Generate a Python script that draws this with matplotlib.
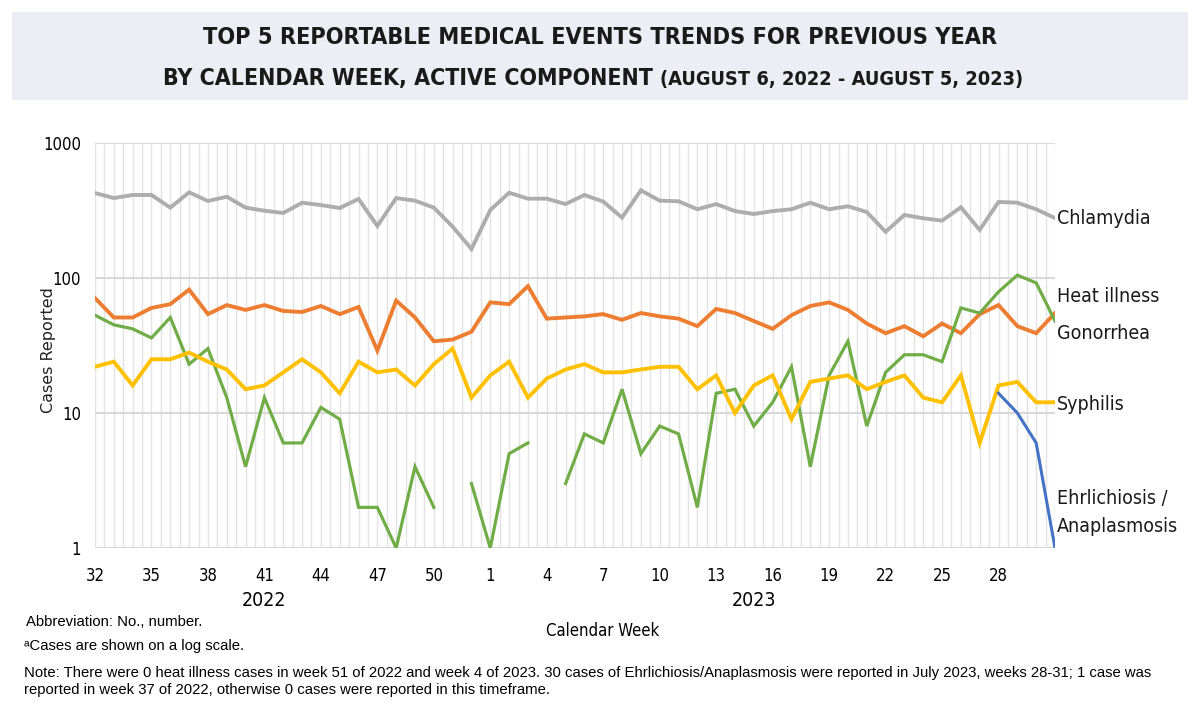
import numpy as np
import matplotlib.pyplot as plt
from matplotlib import font_manager
from matplotlib.patches import Rectangle

# Semanas: 32-52 de 2022 y 1-31 de 2023
semanas_2022 = list(range(32, 53))
semanas_2023 = list(range(1, 32))
etiquetas_semana = [str(s) for s in semanas_2022 + semanas_2023]

chlamydia = [426, 391, 412, 412, 332, 431, 372, 400, 332, 315, 303, 361, 347, 330, 385,
             243, 391, 374, 332, 240, 164,
             319, 428, 387, 387, 353, 412, 368, 280, 446, 374, 370, 323, 353, 313, 298,
             313, 323, 361, 323, 340, 308, 220, 293, 277, 266, 334, 227, 366, 361, 323, 278]

gonorrhea = [71, 51, 51, 60, 64, 82, 54, 63, 58, 63, 57, 56, 62, 54, 61,
             29, 68, 51, 34, 35, 40,
             66, 64, 87, 50, 51, 52, 54, 49, 55, 52, 50, 44, 59, 55, 48,
             42, 53, 62, 66, 58, 46, 39, 44, 37, 46, 39, 54, 63, 44, 39, 55]

# None = 0 casos (no se puede mostrar en escala log)
heat_illness = [53, 45, 42, 36, 51, 23, 30, 13, 4, 13, 6, 6, 11, 9, 2,
                2, 1, 4, 2, None, 3,
                1, 5, 6, None, 3, 7, 6, 15, 5, 8, 7, 2, 14, 15, 8,
                12, 22, 4, 19, 34, 8, 20, 27, 27, 24, 60, 55, 79, 105, 92, 48]

syphilis = [22, 24, 16, 25, 25, 28, 24, 21, 15, 16, 20, 25, 20, 14, 24,
            20, 21, 16, 23, 30, 13,
            19, 24, 13, 18, 21, 23, 20, 20, 21, 22, 22, 15, 19, 10, 16,
            19, 9, 17, 18, 19, 15, 17, 19, 13, 12, 19, 6, 16, 17, 12, 12]

# Ehrlichiosis / Anaplasmosis solo semanas 28-31 de 2023
ehrlichiosis = [None] * 48 + [14, 10, 6, 1]

series = [
    ("Chlamydia", chlamydia, "#ADADAD", 2.8),
    ("Gonorrhea", gonorrhea, "#ED7D31", 2.8),
    ("Heat illness", heat_illness, "#70AD47", 2.3),
    ("Syphilis", syphilis, "#FFC000", 2.8),
    ("Ehrlichiosis / Anaplasmosis", ehrlichiosis, "#4472C4", 2.2),
]

# Buscar una fuente estrecha instalada (el original usa una tipografía condensada)
fuentes = font_manager.fontManager.ttflist
def es_estrecha(f):
    st = f.stretch
    if isinstance(st, str):
        return "condensed" in st or "narrow" in f.name.lower() or "condensed" in f.name.lower()
    return st < 500 or "narrow" in f.name.lower() or "condensed" in f.name.lower()

estrechas = [f for f in fuentes if es_estrecha(f)]
preferidas = ["Liberation Sans Narrow", "DejaVu Sans", "Roboto Condensed", "Open Sans",
              "Noto Sans", "Roboto"]
narrow = None
for p in preferidas:
    for f in estrechas:
        if f.name == p or f.name.startswith(p):
            narrow = f.name
            break
    if narrow:
        break
if narrow is None and estrechas:
    narrow = estrechas[0].name

if narrow is None:
    fuente_narrow = dict(family=["DejaVu Sans"])
    escala = 0.8
else:
    fuente_narrow = dict(family=[narrow, "DejaVu Sans"], stretch="condensed")
    escala = 1.0

fuente_nota = dict(family=["Liberation Sans", "DejaVu Sans"])

fig = plt.figure(figsize=(12, 7.1), dpi=100)

# Caja del título
fig.patches.append(Rectangle((12 / 1200, 1 - 100 / 710), 1176 / 1200, 88 / 710,
                             transform=fig.transFigure, facecolor="#EDEDF5",
                             edgecolor="none", zorder=0))
fig.text(0.5, 1 - 38 / 710, "TOP 5 REPORTABLE MEDICAL EVENTS TRENDS FOR PREVIOUS YEAR",
         ha="center", va="center", fontsize=16.8 * escala, fontweight="bold",
         color="#1a1a1a", **fuente_narrow)
fig.text(660 / 1200, 1 - 78 / 710, "BY CALENDAR WEEK, ACTIVE COMPONENT ",
         ha="right", va="center", fontsize=16.6 * escala, fontweight="bold",
         color="#1a1a1a", **fuente_narrow)
fig.text(660 / 1200, 1 - 79 / 710, "(AUGUST 6, 2022 - AUGUST 5, 2023)",
         ha="left", va="center", fontsize=14.3 * escala, fontweight="bold",
         color="#1a1a1a", **fuente_narrow)

ax = fig.add_axes([95 / 1200, 1 - 548 / 710, 960 / 1200, 405 / 710])
x = np.arange(len(etiquetas_semana))

for nombre, valores, color, ancho in series:
    y = np.array([np.nan if v is None else v for v in valores], dtype=float)
    ax.plot(x, y, color=color, linewidth=ancho, solid_joinstyle="miter", zorder=3)

ax.set_yscale("log")
ax.set_ylim(1, 1000)
ax.set_xlim(0, len(x) - 1)
ax.set_yticks([1, 10, 100, 1000])
ax.set_yticklabels(["1", "10", "100", "1000"], fontsize=12 * escala, **fuente_narrow)
ax.minorticks_off()
# etiquetas cada 3 semanas (la última semana, 31, no lleva etiqueta)
ax.set_xticks(x[:-1:3])
ax.set_xticklabels(etiquetas_semana[:-1:3], fontsize=12 * escala, **fuente_narrow)
ax.tick_params(axis="y", length=0, pad=10)
ax.tick_params(axis="x", length=0, pad=14)

# Líneas de cuadrícula
for xv in np.arange(0, len(x) - 0.5, 0.5):
    ax.axvline(xv, color="#E3E3E3", linewidth=1.0, zorder=1)
for yv in [1, 10, 100, 1000]:
    ax.axhline(yv, color="#D9D9D9", linewidth=1.5, zorder=1)
for s in ax.spines.values():
    s.set_visible(False)

fig.text(48 / 1200, 1 - 350 / 710, "Cases Reported", rotation=90, ha="center", va="center",
         fontsize=11.5, family=["DejaVu Sans"], color="#222222")

# Años y eje x
ax.text(9, -0.13, "2022", transform=ax.get_xaxis_transform(), ha="center", va="center",
        fontsize=14 * escala, **fuente_narrow)
ax.text(35, -0.13, "2023", transform=ax.get_xaxis_transform(), ha="center", va="center",
        fontsize=14 * escala, **fuente_narrow)
fig.text(603 / 1200, 1 - 631 / 710, "Calendar Week", ha="center", va="center",
         fontsize=12 * escala, **fuente_narrow)

# Etiquetas a la derecha
etiquetas = [("Chlamydia", 218), ("Heat illness", 296), ("Gonorrhea", 333),
             ("Syphilis", 404), ("Ehrlichiosis /", 498), ("Anaplasmosis", 527)]
for texto, ypx in etiquetas:
    fig.text(1057 / 1200, 1 - ypx / 710, texto, ha="left", va="center",
             fontsize=14 * escala, color="#1a1a1a", **fuente_narrow)

# Notas al pie
fig.text(26 / 1200, 1 - 622 / 710, "Abbreviation: No., number.", ha="left", va="center",
         fontsize=10.75, **fuente_nota)
fig.text(24 / 1200, 1 - 646 / 710, "ᵃCases are shown on a log scale.", ha="left", va="center",
         fontsize=10.75, **fuente_nota)
fig.text(24 / 1200, 1 - 673 / 710,
         "Note: There were 0 heat illness cases in week 51 of 2022 and week 4 of 2023. "
         "30 cases of Ehrlichiosis/Anaplasmosis were reported in July 2023, weeks 28-31; 1 case was",
         ha="left", va="center", fontsize=10.75, **fuente_nota)
fig.text(24 / 1200, 1 - 690 / 710,
         "reported in week 37 of 2022, otherwise 0 cases were reported in this timeframe.",
         ha="left", va="center", fontsize=10.75, **fuente_nota)

plt.savefig("out.png", dpi=100)
